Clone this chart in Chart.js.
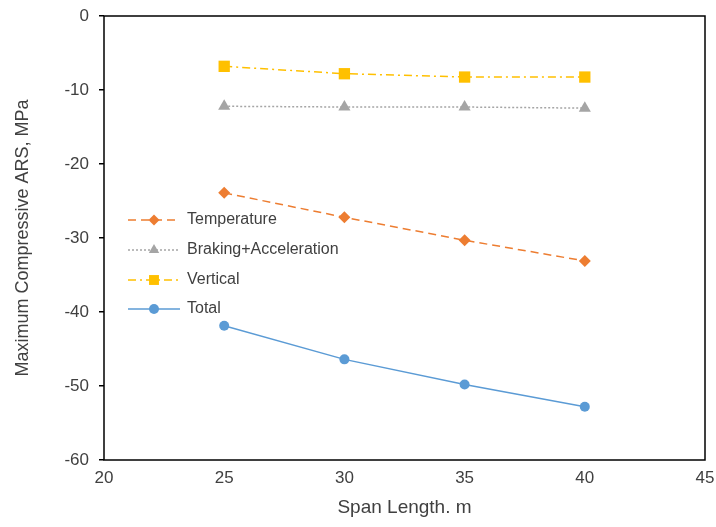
<!DOCTYPE html>
<html>
<head>
<meta charset="utf-8">
<script src="https://cdn.jsdelivr.net/npm/chart.js@4.4.1/dist/chart.umd.min.js"></script>
<style>
  html, body { margin: 0; padding: 0; background: #fff; }
  #wrap { width: 716px; height: 527px; }
</style>
</head>
<body>
<div id="wrap"><canvas id="arsChart" width="716" height="527"></canvas></div>
<script>
// span lengths (m)
var spans = [25, 30, 35, 40];

// maximum compressive ARS (MPa)
var temperature = [-23.9, -27.2, -30.3, -33.1];
var braking = [-12.2, -12.3, -12.3, -12.45];
var vertical = [-6.8, -7.8, -8.25, -8.25];
var total = [-41.85, -46.4, -49.8, -52.8];

var seriesNames = ['Temperature', 'Braking+Acceleration', 'Vertical', 'Total'];
var xTicks = [20, 25, 30, 35, 40, 45];
var yTicks = [0, -10, -20, -30, -40, -50, -60];

var FONT = '"Liberation Sans", Arial, sans-serif';

function pts(vals) {
    return spans.map(function (s, i) { return { x: s, y: vals[i] }; });
}

var styles = [
    { color: '#ED7D31', dash: [8, 5], point: 'rectRot', radius: 6, legendRadius: 5.5 },
    { color: '#A5A5A5', dash: [2, 2], point: 'triangle', radius: 7, legendRadius: 6 },
    { color: '#FFC000', dash: [8, 4, 2, 4], point: 'rect', radius: 8, legendRadius: 7 },
    { color: '#5B9BD5', dash: [], point: 'circle', radius: 5, legendRadius: 5 }
];
var allValues = [temperature, braking, vertical, total];

var datasets = allValues.map(function (vals, i) {
    var st = styles[i];
    return {
        label: seriesNames[i],
        data: pts(vals),
        borderColor: st.color,
        backgroundColor: st.color,
        borderWidth: 1.5,
        borderDash: st.dash,
        pointStyle: st.point,
        pointRadius: st.radius,
        pointBorderWidth: 0,
        pointBackgroundColor: st.color,
        tension: 0
    };
});

//Draws the frame round the plot area plus the legend that sits inside it
var framePlugin = {
    id: 'frameAndLegend',
    afterDraw: function (chart) {
        var ctx = chart.ctx;
        var a = chart.chartArea;
        ctx.save();
        ctx.strokeStyle = '#000';
        ctx.lineWidth = 1.5;
        ctx.setLineDash([]);
        ctx.strokeRect(a.left, a.top, a.right - a.left, a.bottom - a.top);

        var rowsY = [220, 250, 280, 309];
        var x0 = 128, x1 = 180;
        for (var i = 0; i < seriesNames.length; i++) {
            var st = styles[i];
            var y = rowsY[i];
            ctx.strokeStyle = st.color;
            ctx.lineWidth = 1.5;
            ctx.setLineDash(st.dash);
            ctx.beginPath();
            ctx.moveTo(x0, y);
            ctx.lineTo(x1, y);
            ctx.stroke();
            ctx.setLineDash([]);
            ctx.fillStyle = st.color;
            ctx.strokeStyle = st.color;
            Chart.helpers.drawPoint(ctx, {
                pointStyle: st.point,
                radius: st.legendRadius,
                borderWidth: 0,
                rotation: 0
            }, (x0 + x1) / 2, y);
            ctx.fillStyle = '#404040';
            ctx.font = '16px ' + FONT;
            ctx.textBaseline = 'middle';
            ctx.textAlign = 'left';
            ctx.fillText(seriesNames[i], 187, y);
        }
        ctx.restore();
    }
};

var ctx = document.getElementById('arsChart');
var myChart = new Chart(ctx, {
    type: 'line',
    data: { datasets: datasets },
    options: {
        responsive: false,
        animation: false,
        layout: { padding: { top: 16, right: 11, left: 12, bottom: 8 } },
        plugins: {
            legend: { display: false },
            tooltip: { enabled: false }
        },
        scales: {
            x: {
                type: 'linear',
                min: 20,
                max: 45,
                afterBuildTicks: function (scale) {
                    scale.ticks = xTicks.map(function (v) { return { value: v }; });
                },
                afterFit: function (scale) {
                    scale.height = 59;
                    scale.paddingLeft = 0;
                    scale.paddingRight = 0;
                },
                grid: { display: true, drawOnChartArea: false, drawTicks: false, color: '#000' },
                border: { display: false },
                ticks: {
                    padding: 8,
                    color: '#404040',
                    font: { family: FONT, size: 17 }
                },
                title: {
                    display: true,
                    text: 'Span Length. m',
                    color: '#404040',
                    padding: { top: 2, bottom: 0 },
                    font: { family: FONT, size: 19 }
                }
            },
            y: {
                type: 'linear',
                min: -60,
                max: 0,
                afterBuildTicks: function (scale) {
                    scale.ticks = yTicks.map(function (v) { return { value: v }; });
                },
                afterFit: function (scale) {
                    scale.width = 92;
                    scale.paddingTop = 0;
                    scale.paddingBottom = 0;
                },
                grid: { display: true, drawOnChartArea: false, drawTicks: true, tickLength: 5, color: '#000', lineWidth: 1.5 },
                border: { display: false },
                ticks: {
                    padding: 10,
                    color: '#404040',
                    font: { family: FONT, size: 17 }
                },
                title: {
                    display: true,
                    text: 'Maximum Compressive ARS, MPa',
                    color: '#404040',
                    padding: { top: 0, bottom: 4 },
                    font: { family: FONT, size: 18 }
                }
            }
        }
    },
    plugins: [framePlugin]
});
</script>
</body>
</html>
